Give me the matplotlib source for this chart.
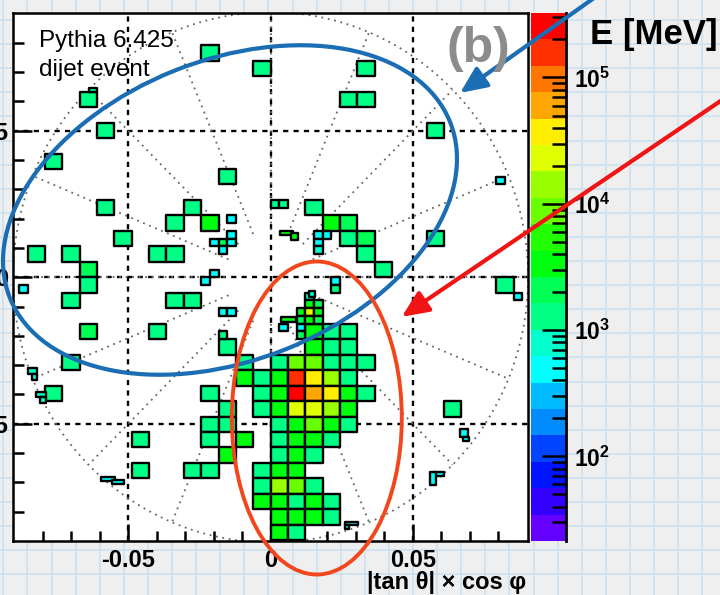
import colorsys
import numpy as np
import matplotlib
matplotlib.use("Agg")
import matplotlib.pyplot as plt
from matplotlib.patches import Rectangle, Ellipse, FancyArrowPatch
from matplotlib.collections import PatchCollection
from matplotlib.colors import ListedColormap, BoundaryNorm

plt.rcParams["font.family"] = ["Liberation Sans", "DejaVu Sans"]
plt.rcParams["mathtext.fontset"] = "custom"
plt.rcParams["mathtext.rm"] = "Liberation Sans:bold"
plt.rcParams["mathtext.bf"] = "Liberation Sans:bold"

# ---------------- data ----------------
CELL_W = 0.0061      # cell pitch in x  (|tan theta| units)
CELL_H = 0.00528     # cell pitch in y
Z_MIN, Z_MAX = 21.4, 3.24e5
N_LEVELS = 20

# full-size cells: column, row, energy [MeV]
big_i = [-4, -1, 5, 4, 5, -11, -10, 9, -13, -3, -10, 2, -5, -6, -4, -9, 3, 4, 4, 5, 5, 6, 9,
         -14, -12, -11, -11, -12, -7, -6, 13, -6, -5, -11, -7, -3, -12, -13, -4, -8, -8, -5, -4, 10,
         # central jet
         2, 3, 4,
         2, 3, 4,
         0, 1, 2, 3, 4, 5,
         -1, 0, 1, 2, 3, 4,
         -1, 0, 1, 2, 3, 4, 5,
         -1, 0, 1, 2, 3, 4,
         0, 1, 2, 3, 4,
         0, 1, 2, 3,
         0, 1, 2,
         -1, 0, 1,
         -1, 0, 1, 2,
         -1, 0, 1, 2, 3,
         0, 1, 2, 3,
         0, 1,
         -2, -2, -3, -4, -3, -4, -2, -3]
big_j = [14, 13, 13, 11, 11, 11, 9, 9, 7, 6, 4, 4, 4, 3, 3, 2, 3, 3, 2, 2, 1, 0, 2,
         1, 1, 0, -1, -2, 1, 1, -1, -2, -2, -4, -4, -5, -6, -8, -8, -11, -13, -13, -13, -9,
         -4, -4, -4,
         -5, -5, -5,
         -6, -6, -6, -6, -6, -6,
         -7, -7, -7, -7, -7, -7,
         -8, -8, -8, -8, -8, -8, -8,
         -9, -9, -9, -9, -9, -9,
         -10, -10, -10, -10, -10,
         -11, -11, -11, -11,
         -12, -12, -12,
         -13, -13, -13,
         -14, -14, -14, -14,
         -15, -15, -15, -15, -15,
         -16, -16, -16, -16,
         -17, -17,
         -6, -7, -9, -10, -10, -11, -11, -12]
big_e = [1300, 1300, 1300, 1300, 1300, 1300, 1300, 1300, 1300, 1300, 1300, 1300, 1300, 1300, 3400,
         1300, 3400, 2100, 1300, 2100, 1300, 1300, 1300,
         1300, 1300, 2100, 1300, 1300, 1300, 1300, 1300, 1300, 1300, 2100, 1300, 1300, 1300, 1300,
         1300, 1300, 1300, 1300, 1300, 1300,
         3400, 1300, 1300,
         3400, 1300, 1300,
         1300, 8800, 8800, 1300, 1300, 1300,
         1300, 3400, 160000, 38000, 14000, 1300,
         1300, 3400, 260000, 61000, 38000, 3400, 1300,
         1300, 3400, 23000, 23000, 14000, 3400,
         1300, 3400, 8800, 3400, 1300,
         1300, 3400, 3400, 1300,
         1300, 3400, 1300,
         1300, 3400, 3400,
         1300, 14000, 8800, 1300,
         3400, 3400, 1300, 3400, 1300,
         3400, 3400, 3400, 1300,
         3400, 1300,
         1300, 3400, 1300, 1300, 1300, 1300, 3400, 3400]

# half-size cells (inner ring and outer edge): column, row, energy [MeV]
small_i = [-5, -5, -7, -6, -5, -6, 0, 1, 5, 6, 5, 5, 26, -29, -8, -7, 7, 7, 28, -6, -5, -6,
           4, 4, 5, 3, 4, 5, 3, 4, 5, 1, 3, 3]
small_j = [7, 5, 4, 4, 4, 3, 9, 9, 5, 5, 4, 3, 12, -2, -1, 0, -1, -2, -3, -5, -5, -8,
           -3, -4, -4, -5, -5, -5, -6, -6, -6, -7, -7, -8]
small_e = [480, 480, 480, 1800, 480, 480, 1300, 1300, 480, 480, 480, 700, 480, 480, 480, 480,
           480, 1300, 480, 480, 480, 1300,
           800, 3400, 2100, 3400, 23000, 3400, 2100, 3400, 2100, 480, 480, 2100]

# irregular cells clipped at the calorimeter edges: x0, x1, y0, y1, energy [MeV]
frag_x0 = [-0.0638, -0.0852, -0.0838, -0.0823, -0.0809, -0.0595, -0.0559, 0.0573, 0.0559,
           0.0260, 0.0260, 0.0665, 0.0676, 0.0032, 0.0073, 0.0038, 0.0134]
frag_x1 = [-0.0610, -0.0821, -0.0821, -0.0788, -0.0788, -0.0548, -0.0515, 0.0611, 0.0580,
           0.0307, 0.0275, 0.0694, 0.0697, 0.0079, 0.0096, 0.0091, 0.0155]
frag_y0 = [0.0634, -0.0330, -0.0350, -0.0409, -0.0430, -0.0694, -0.0705, -0.0677, -0.0709,
           -0.0846, -0.0860, -0.0544, -0.0558, 0.0145, 0.0128, -0.0151, -0.0066]
frag_y1 = [0.0645, -0.0311, -0.0330, -0.0393, -0.0409, -0.0680, -0.0692, -0.0663, -0.0663,
           -0.0834, -0.0846, -0.0518, -0.0544, 0.0159, 0.0150, -0.0134, -0.0046]
frag_e = [1300, 700, 700, 700, 700, 480, 480, 480, 480, 480, 480, 480, 480, 3400, 3400,
          3400, 800]

# guide geometry: outer acceptance circle and azimuthal spokes
R_OUTER = 0.0905
R_SPOKE_IN = 0.016
SPOKE_STEP_DEG = 22.5

X_LIM = (-0.0907, 0.0903)
Y_LIM = (-0.0900, 0.0902)

# ---------------- palette (violet -> red, 20 contours) ----------------
def pretty_palette(n_levels, n_colors=50):
    cols = []
    for k in range(n_levels):
        idx = int((k + 0.99) * n_colors / n_levels)
        hue = max(0.0, 280.0 - (idx + 1) * 280.0 / n_colors)
        cols.append(colorsys.hls_to_rgb(hue / 360.0, 0.5, 1.0))
    return ListedColormap(cols)

cmap = pretty_palette(N_LEVELS)
levels = np.logspace(np.log10(Z_MIN), np.log10(Z_MAX), N_LEVELS + 1)
norm = BoundaryNorm(levels, cmap.N)

# ---------------- figure ----------------
W, H = 720, 595
fig = plt.figure(figsize=(W / 100, H / 100), dpi=100)
fig.patch.set_facecolor("#efefef")

# graph-paper backdrop
bg = fig.add_axes([0, 0, 1, 1], zorder=-10)
bg.set_xlim(0, W)
bg.set_ylim(H, 0)
bg.axis("off")
for gx in np.arange(3.3, W, 24.1):
    bg.axvline(gx, color="#cfe1ee", lw=1.3)
for gy in np.arange(20.0 - 24.1, H, 24.1):
    bg.axhline(gy, color="#cfe1ee", lw=1.3)


def px_axes(x0, y0, x1, y1, **kw):
    return fig.add_axes([x0 / W, 1 - y1 / H, (x1 - x0) / W, (y1 - y0) / H], **kw)


ax = px_axes(12.5, 13.0, 527.5, 541.0)
ax.set_facecolor("white")
ax.set_xlim(*X_LIM)
ax.set_ylim(*Y_LIM)

# dashed reference grid
for v in (-0.05, 0.0, 0.05):
    ax.axvline(v, color="black", lw=1.7, ls=(0, (2.2, 2.2)), zorder=1)
    ax.axhline(v, color="black", lw=1.7, ls=(0, (2.2, 2.2)), zorder=1)

# dotted acceptance circle and spokes
t = np.linspace(0, 2 * np.pi, 721)
ax.plot(R_OUTER * np.cos(t), R_OUTER * np.sin(t), color="#666666", lw=1.3,
        ls=(0, (1, 2.6)), zorder=1.5)
for ang in np.deg2rad(np.arange(0, 360, SPOKE_STEP_DEG)):
    ax.plot([R_SPOKE_IN * np.cos(ang), R_OUTER * np.cos(ang)],
            [R_SPOKE_IN * np.sin(ang), R_OUTER * np.sin(ang)],
            color="#666666", lw=1.3, ls=(0, (1, 2.6)), zorder=1.5)

# calorimeter cells
patches, energies = [], []
for i, j, e in zip(big_i, big_j, big_e):
    patches.append(Rectangle((i * CELL_W, j * CELL_H), CELL_W, CELL_H))
    energies.append(e)
for i, j, e in zip(small_i, small_j, small_e):
    patches.append(Rectangle((i * CELL_W / 2, j * CELL_H / 2), CELL_W / 2, CELL_H / 2))
    energies.append(e)
for x0, x1, y0, y1, e in zip(frag_x0, frag_x1, frag_y0, frag_y1, frag_e):
    patches.append(Rectangle((x0, y0), x1 - x0, y1 - y0))
    energies.append(e)
pc = PatchCollection(patches, cmap=cmap, norm=norm, edgecolor="black", linewidth=1.7, zorder=3)
pc.set_array(np.asarray(energies, dtype=float))
ax.add_collection(pc)

for s in ax.spines.values():
    s.set_linewidth(1.8)

ax.set_xticks([-0.05, 0.0, 0.05])
ax.set_xticklabels(["-0.05", "0", "0.05"])
ax.set_yticks([-0.05, 0.0, 0.05])
ax.set_yticklabels(["-0.05", "0", "0.05"])
ax.set_xticks(np.arange(-0.08, 0.081, 0.01), minor=True)
ax.set_yticks(np.arange(-0.08, 0.081, 0.01), minor=True)
ax.tick_params(which="both", direction="in", top=False, right=False, width=1.8,
               labelsize=17, colors="black")
ax.tick_params(axis="x", which="major", length=12, pad=6)
ax.tick_params(axis="x", which="minor", length=7)
ax.tick_params(axis="y", which="major", length=14, pad=3)
ax.tick_params(axis="y", which="minor", length=8)
for lab in ax.get_xticklabels() + ax.get_yticklabels():
    lab.set_fontweight("bold")

# colour scale
cax = px_axes(531.0, 13.0, 566.0, 541.0)
cax.set_yscale("log")
cax.set_ylim(Z_MIN, Z_MAX)
cax.set_xlim(0, 1)
for k in range(N_LEVELS):
    cax.axhspan(levels[k], levels[k + 1], color=cmap(k), lw=0)
for side in ("top", "left", "bottom"):
    cax.spines[side].set_visible(False)
cax.spines["right"].set_linewidth(2.0)
cax.yaxis.tick_right()
cax.set_xticks([])
cax.tick_params(axis="y", which="major", direction="in", length=17, width=1.8, pad=6,
                labelsize=16.5)
cax.tick_params(axis="y", which="minor", direction="in", length=10, width=1.8)
cax.set_yticks([1e2, 1e3, 1e4, 1e5])
cax.set_yticklabels([r"$\mathbf{10^{2}}$", r"$\mathbf{10^{3}}$", r"$\mathbf{10^{4}}$",
                     r"$\mathbf{10^{5}}$"])

# annotation layer in pixel coordinates
ov = fig.add_axes([0, 0, 1, 1], zorder=20)
ov.set_xlim(0, W)
ov.set_ylim(H, 0)
ov.axis("off")
ov.patch.set_alpha(0)

ov.text(39, 46.5, "Pythia 6.425", fontsize=17.5, va="baseline", ha="left")
ov.text(39, 76.0, "dijet event", fontsize=17.5, va="baseline", ha="left")
ov.text(478, 62, "(b)", fontsize=36, color="#8c8c8c", fontweight="bold", ha="center",
        va="baseline")
ov.text(590, 44, "E [MeV]", fontsize=25, fontweight="bold", ha="left", va="baseline")
ov.text(526, 589, "|tan θ| × cos φ", fontsize=17, fontweight="bold", ha="right",
        va="baseline")

ov.add_patch(Ellipse((230, 210), 474, 300, angle=-21.8, fill=False, ec="#1b6db4", lw=3.0))
ov.add_patch(Ellipse((316.8, 418), 170, 313, angle=0, fill=False, ec="#f2471c", lw=2.8))
ov.add_patch(FancyArrowPatch((594, -2), (460, 93), arrowstyle="-|>,head_length=0.9,head_width=0.4",
                             mutation_scale=18, color="#1b6db4", lw=3.0, shrinkA=0, shrinkB=0))
ov.add_patch(FancyArrowPatch((722, 100), (401.7, 316.9),
                             arrowstyle="-|>,head_length=0.9,head_width=0.4",
                             mutation_scale=18, color="#f01414", lw=3.0, shrinkA=0, shrinkB=0))

fig.savefig("out.png", dpi=100, facecolor=fig.get_facecolor())
